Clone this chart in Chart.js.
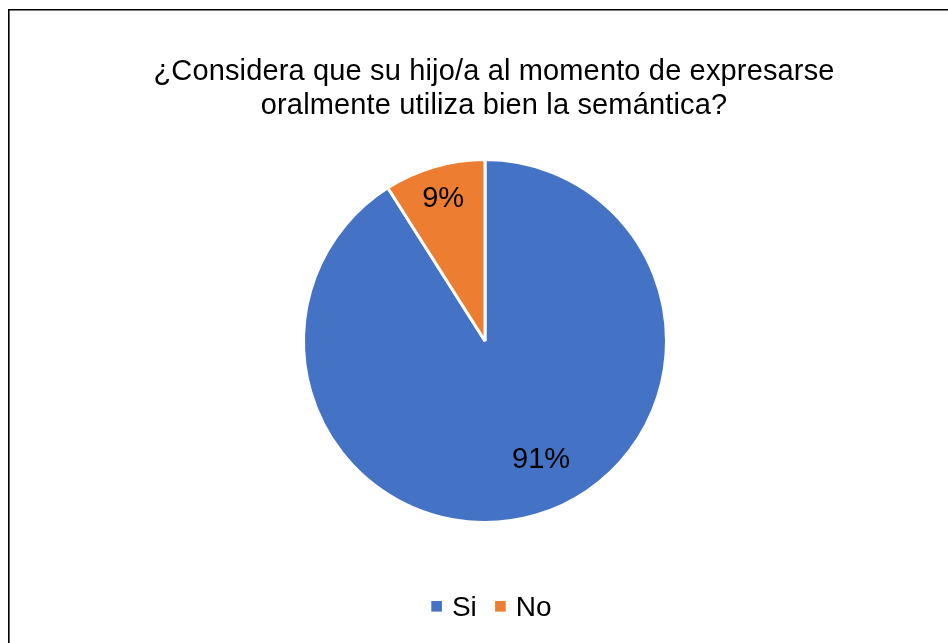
<!DOCTYPE html>
<html>
<head>
<meta charset="utf-8">
<script src="https://cdn.jsdelivr.net/npm/chart.js@4"></script>
<style>
  html, body { margin: 0; padding: 0; background: #fff; }
  #wrap { width: 948px; height: 643px; position: relative; }
</style>
</head>
<body>
<div id="wrap"><canvas id="c" width="948" height="643"></canvas></div>
<script>
const categories = ['Si', 'No'];
const percentValues = [91, 9];
const sliceColors = ['#4472C4', '#ED7D31'];
const titleLines = ['¿Considera que su hijo/a al momento de expresarse', 'oralmente utiliza bien la semántica?'];

const FONT = "'Liberation Sans', Arial, sans-serif";

const frame = {
  id: 'frame',
  beforeDraw(chart) {
    const ctx = chart.ctx;
    ctx.save();
    ctx.fillStyle = '#fff';
    ctx.fillRect(0, 0, chart.width, chart.height);
    ctx.strokeStyle = '#000';
    ctx.lineWidth = 1.6;
    ctx.beginPath();
    ctx.moveTo(8.8, chart.height + 5);
    ctx.lineTo(8.8, 9.8);
    ctx.lineTo(chart.width + 5, 9.8);
    ctx.stroke();
    ctx.restore();
  }
};

const chartTitle = {
  id: 'chartTitle',
  afterDraw(chart, args, opts) {
    const ctx = chart.ctx;
    ctx.save();
    ctx.font = opts.size + 'px ' + FONT;
    if ('letterSpacing' in ctx) ctx.letterSpacing = opts.spacing + 'px';
    ctx.fillStyle = '#000';
    ctx.textAlign = 'center';
    ctx.textBaseline = 'alphabetic';
    opts.lines.forEach((line, i) => {
      ctx.fillText(line, opts.centerX, opts.firstBaseline + i * opts.lineHeight);
    });
    ctx.restore();
  }
};

const sliceLabels = {
  id: 'sliceLabels',
  afterDatasetsDraw(chart, args, opts) {
    const ctx = chart.ctx;
    const meta = chart.getDatasetMeta(0);
    const data = chart.data.datasets[0].data;
    ctx.save();
    ctx.font = opts.size + 'px ' + FONT;
    ctx.fillStyle = '#000';
    ctx.textAlign = 'center';
    ctx.textBaseline = 'alphabetic';
    meta.data.forEach((arc, i) => {
      const p = arc.getProps(['x', 'y', 'startAngle', 'endAngle', 'outerRadius'], true);
      const place = opts.placement[i] || {shift: 0, factor: 0.75};
      const mid = (p.startAngle + p.endAngle) / 2 + place.shift * Math.PI / 180;
      const r = p.outerRadius * place.factor;
      const cx = p.x + Math.cos(mid) * r;
      const cy = p.y + Math.sin(mid) * r;
      ctx.fillText(data[i] + '%', cx, cy + opts.size * 0.358);
    });
    ctx.restore();
  }
};

const customLegend = {
  id: 'customLegend',
  afterDraw(chart, args, opts) {
    const ctx = chart.ctx;
    const labels = chart.data.labels;
    const colors = chart.data.datasets[0].backgroundColor;
    ctx.save();
    ctx.font = opts.size + 'px ' + FONT;
    ctx.textBaseline = 'alphabetic';
    ctx.textAlign = 'left';
    const box = 10.6, gap = 10, itemGap = 18.3;
    let total = 0;
    labels.forEach((l, i) => {
      total += box + gap + ctx.measureText(l).width;
      if (i < labels.length - 1) total += itemGap;
    });
    let x = opts.centerX - total / 2;
    labels.forEach((l, i) => {
      ctx.fillStyle = colors[i];
      ctx.fillRect(x, opts.boxTop, box, box);
      x += box + gap;
      ctx.fillStyle = '#000';
      ctx.fillText(l, x, opts.baseline);
      x += ctx.measureText(l).width + itemGap;
    });
    ctx.restore();
  }
};

new Chart(document.getElementById('c'), {
  type: 'pie',
  data: {
    labels: categories,
    datasets: [{
      data: percentValues,
      backgroundColor: sliceColors,
      borderColor: '#fff',
      borderWidth: 3,
      radius: 181.5
    }]
  },
  options: {
    responsive: false,
    animation: false,
    layout: { padding: { left: 22, right: 0, top: 120, bottom: 81 } },
    plugins: {
      legend: { display: false },
      tooltip: { enabled: false },
      title: { display: false },
      chartTitle: { lines: titleLines, size: 29, spacing: 0.15, centerX: 494, firstBaseline: 80, lineHeight: 34 },
      sliceLabels: { size: 29, placement: [{ shift: -9.4, factor: 0.715 }, { shift: 0, factor: 0.826 }] },
      customLegend: { size: 28, centerX: 491.4, boxTop: 601, baseline: 616 }
    }
  },
  plugins: [frame, sliceLabels, customLegend, chartTitle]
});
</script>
</body>
</html>
